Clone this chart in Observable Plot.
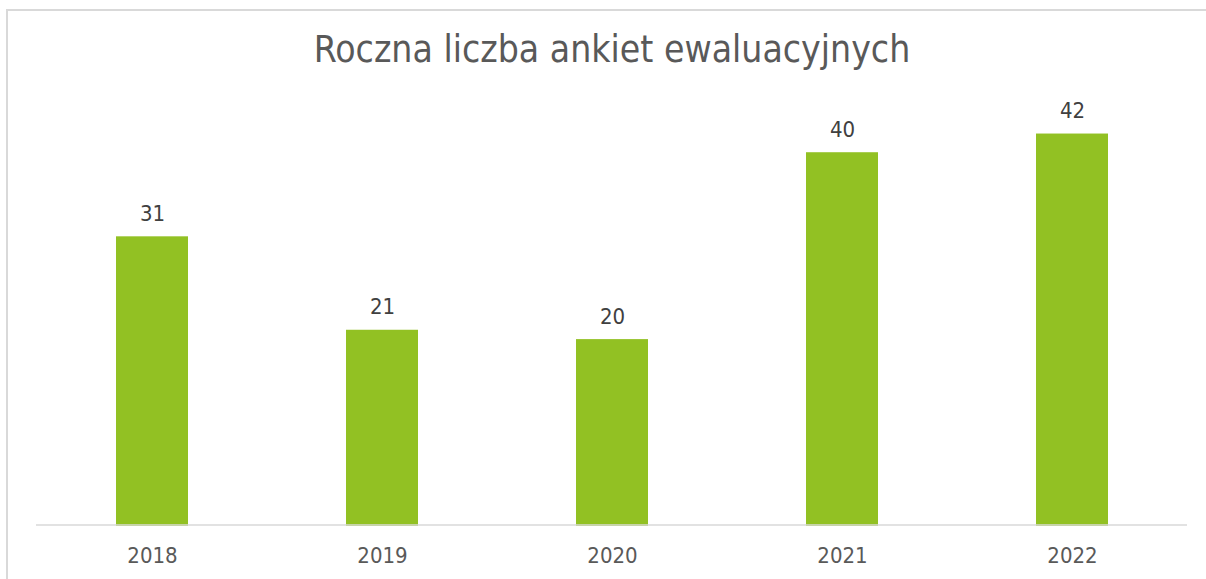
<!DOCTYPE html>
<html>
<head>
<meta charset="utf-8">
<script src="https://cdn.jsdelivr.net/npm/d3@7"></script>
<script src="https://cdn.jsdelivr.net/npm/@observablehq/plot@0.6"></script>
<style>
  html, body { margin: 0; padding: 0; background: #fff; }
  #wrap { position: relative; width: 1206px; height: 579px; overflow: hidden; background: #fff; }
  #frame { position: absolute; left: 6px; top: 9px; width: 1300px; height: 700px;
           border-left: 2px solid #d9d9d9; border-top: 2px solid #d9d9d9; box-sizing: border-box; }
  #title { position: relative; height: 90px; box-sizing: border-box; padding-top: 31px;
           text-align: center; font-family: "DejaVu Sans Condensed", "DejaVu Sans", sans-serif;
           font-size: 37px; line-height: 1; color: #595959; padding-left: 18px; white-space: nowrap; }
  #chart { position: relative; }
</style>
</head>
<body>
<div id="wrap">
  <div id="frame"></div>
  <div id="title">Roczna liczba ankiet ewaluacyjnych</div>
  <div id="chart"></div>
</div>
<script>
const years = ["2018", "2019", "2020", "2021", "2022"];
const counts = [31, 21, 20, 40, 42];
const data = years.map((year, i) => ({year, count: counts[i]}));

const font = "DejaVu Sans Condensed, DejaVu Sans, sans-serif";
const chart = Plot.plot({
  width: 1206,
  height: 489,
  marginLeft: 36,
  marginRight: 19,
  marginTop: 15.5,
  marginBottom: 53,
  style: {fontFamily: font, background: "transparent", overflow: "visible"},
  x: {domain: years, paddingInner: 0.687, paddingOuter: 0.3435, label: null},
  y: {domain: [0, 45], axis: null},
  marks: [
    Plot.barY(data, {x: "year", y: "count", fill: "#92c123"}),
    Plot.ruleY([0], {stroke: "#d9d9d9", strokeWidth: 1.5, dy: -1.5}),
    Plot.text(data, {x: "year", y: "count", text: d => String(d.count), dy: -23, fontSize: 22, fill: "#404040"}),
    Plot.axisX({tickSize: 0, tickPadding: 21, fontSize: 22, color: "#595959", label: null})
  ]
});
document.getElementById("chart").appendChild(chart);
</script>
</body>
</html>
